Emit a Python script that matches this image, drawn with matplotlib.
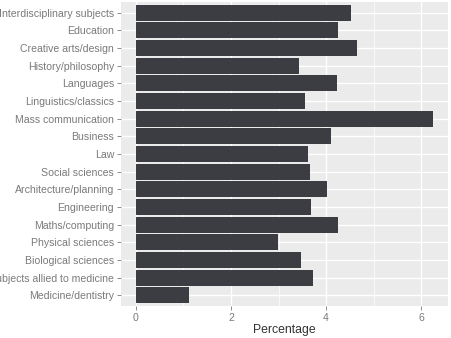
import matplotlib
matplotlib.use("Agg")
import matplotlib.pyplot as plt
import numpy as np

plt.rcParams["font.family"] = ["Liberation Sans", "DejaVu Sans"]

categories = [
    "Interdisciplinary subjects", "Education", "Creative arts/design",
    "History/philosophy", "Languages", "Linguistics/classics",
    "Mass communication", "Business", "Law", "Social sciences",
    "Architecture/planning", "Engineering", "Maths/computing",
    "Physical sciences", "Biological sciences",
    "Subjects allied to medicine", "Medicine/dentistry",
]
values = [4.53, 4.26, 4.64, 3.44, 4.22, 3.56, 6.25, 4.10, 3.61, 3.66,
          4.01, 3.69, 4.26, 2.98, 3.47, 3.73, 1.12]
xticks = [0, 2, 4, 6]
xlabel = "Percentage"

fig = plt.figure(figsize=(4.52, 3.38), dpi=100)
ax = fig.add_axes([121/452, 1 - 306/338, (448-121)/452, (306-2)/338])
ax.set_facecolor("#EBEBEB")

n = len(categories)
ypos = np.arange(n)[::-1] + 1
ax.barh(ypos, values, height=0.9, color="#3c3d43", zorder=3)

xmax = max(values)
pad = 0.05 * xmax
ax.set_xlim(-pad, xmax + pad)
ax.set_ylim(0.4, n + 0.6)

ax.set_xticks(xticks)
ax.set_xticks([1, 3, 5], minor=True)
ax.set_yticks(ypos)
ax.set_yticklabels(categories)

ax.grid(True, which="major", color="white", linewidth=1.0, zorder=1)
ax.grid(True, which="minor", axis="x", color="white", linewidth=0.5, zorder=1)
for s in ax.spines.values():
    s.set_visible(False)

ax.tick_params(axis="both", which="major", length=3, width=0.6, color="#7a7a7a",
               labelsize=7.6, labelcolor="#7a7a7a", pad=2)
ax.tick_params(axis="x", which="major", pad=2)
ax.tick_params(axis="both", which="minor", length=0)
ax.set_xlabel(xlabel, fontsize=8.8, color="#333333", labelpad=1)

fig.savefig("out.png", dpi=100, facecolor="white")
